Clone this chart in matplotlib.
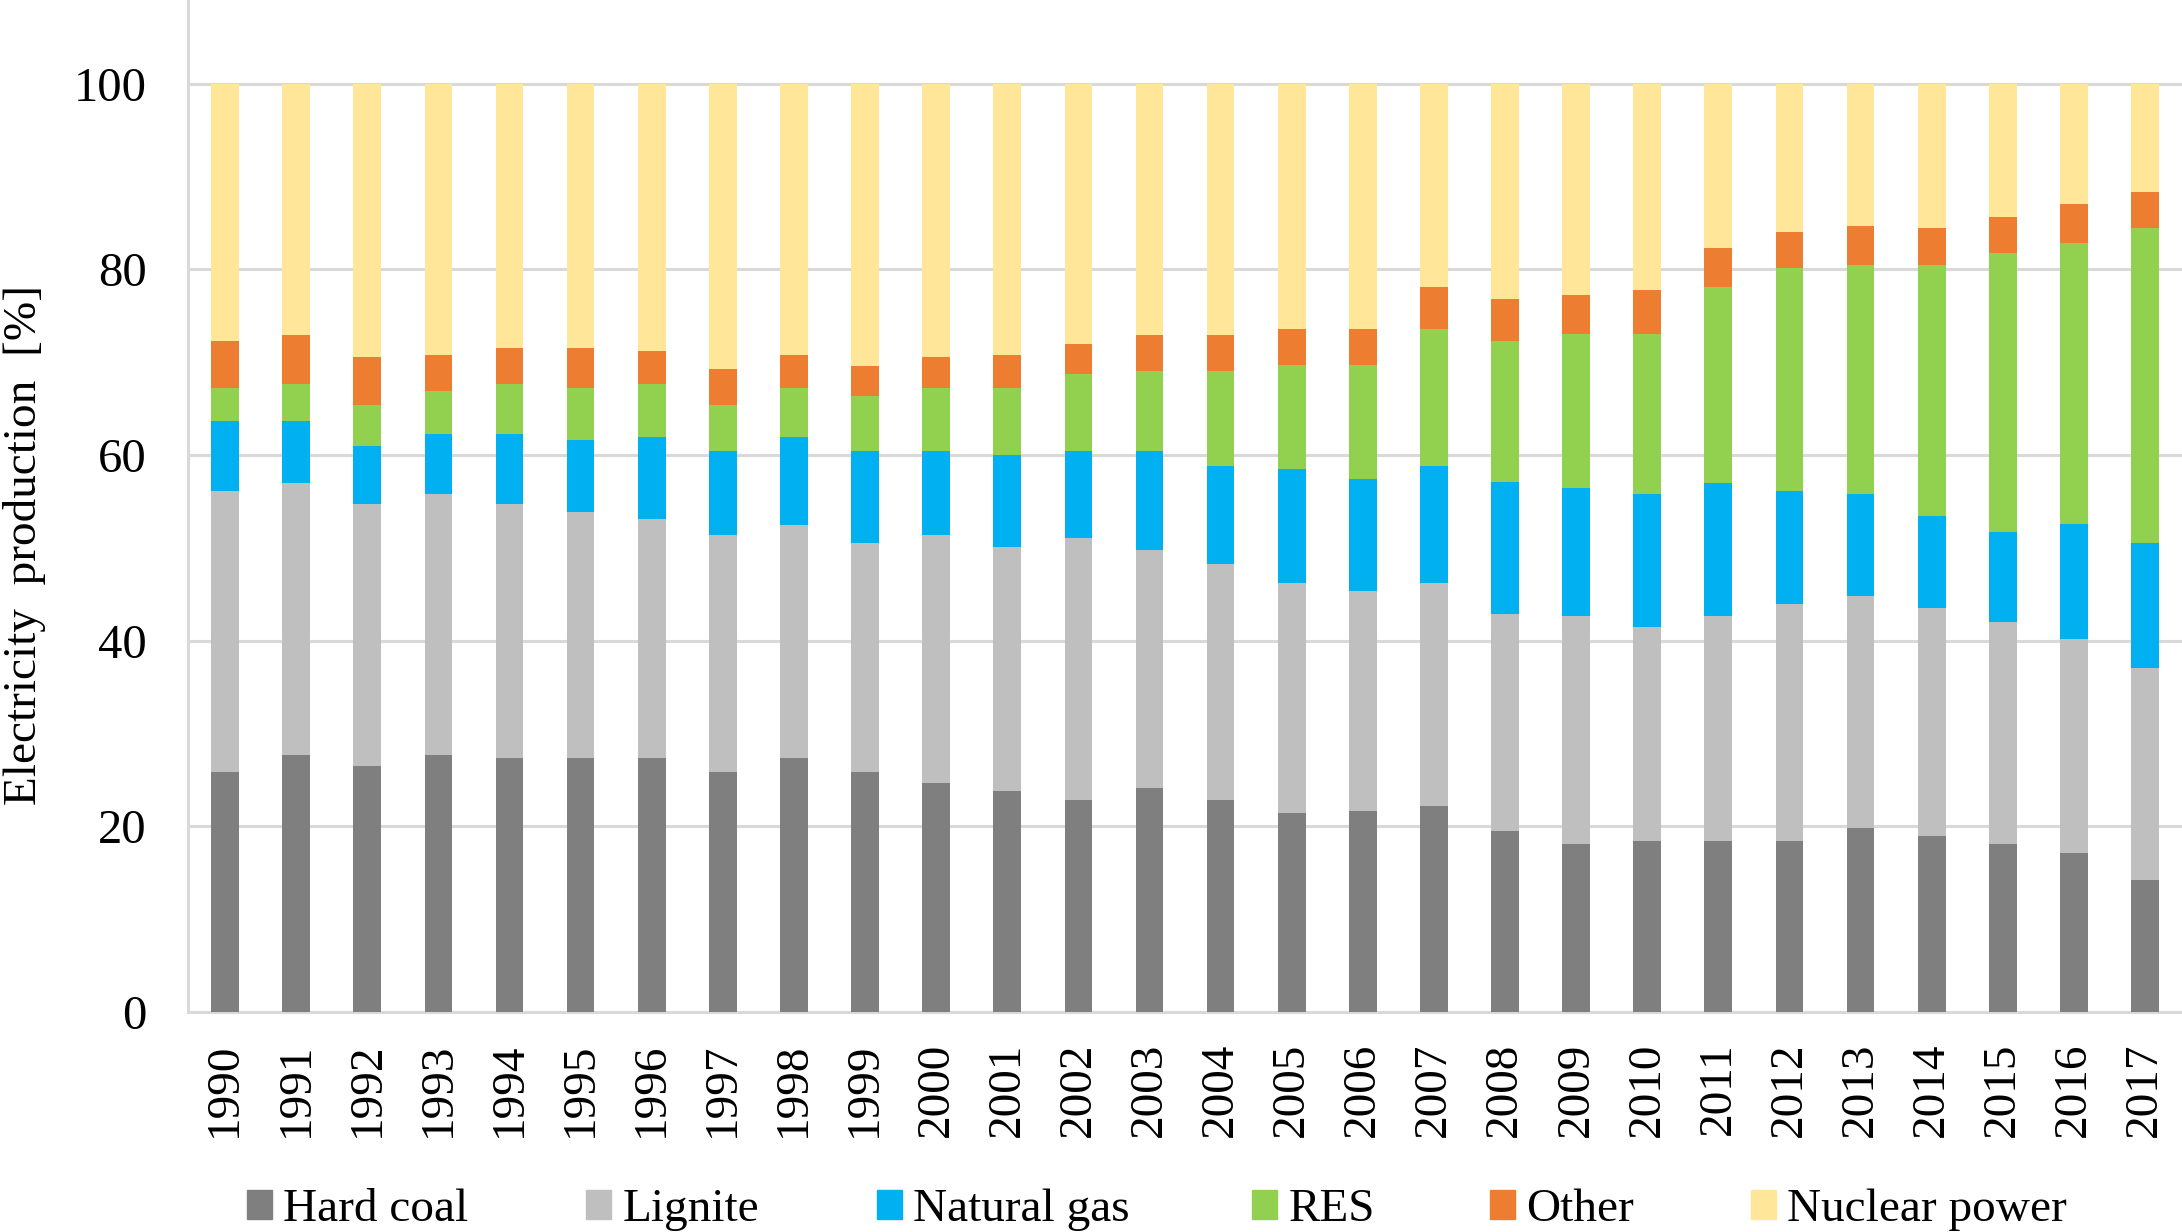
import matplotlib
matplotlib.use("Agg")
import matplotlib.pyplot as plt
import matplotlib.patches as mpatches
import numpy as np

years = [str(y) for y in range(1990, 2018)]

# shares in %
hard_coal = [25.8, 27.7, 26.5, 27.7, 27.4, 27.4, 27.4, 25.8, 27.4, 25.8,
             24.7, 23.8, 22.8, 24.1, 22.8, 21.4, 21.7, 22.2, 19.5, 18.1,
             18.4, 18.4, 18.4, 19.8, 18.9, 18.1, 17.1, 14.2]
lignite = [30.3, 29.3, 28.2, 28.1, 27.3, 26.4, 25.7, 25.6, 25.1, 24.7,
           26.7, 26.3, 28.3, 25.7, 25.5, 24.8, 23.6, 24.0, 23.4, 24.5,
           23.1, 24.2, 25.5, 25.0, 24.6, 23.9, 23.1, 22.8]
natural_gas = [7.5, 6.6, 6.3, 6.4, 7.5, 7.8, 8.8, 9.0, 9.4, 9.9,
               9.0, 9.9, 9.3, 10.6, 10.5, 12.3, 12.1, 12.6, 14.2, 13.8,
               14.3, 14.4, 12.2, 11.0, 9.9, 9.7, 12.4, 13.5]
res = [3.6, 4.0, 4.4, 4.7, 5.4, 5.6, 5.7, 5.0, 5.3, 5.9,
       6.8, 7.2, 8.3, 8.6, 10.2, 11.2, 12.3, 14.8, 15.2, 16.6,
       17.2, 21.1, 24.0, 24.7, 27.1, 30.0, 30.2, 33.9]
other = [5.1, 5.3, 5.1, 3.9, 3.9, 4.3, 3.6, 3.9, 3.6, 3.3,
         3.3, 3.6, 3.3, 3.9, 3.9, 3.9, 3.9, 4.5, 4.5, 4.2,
         4.8, 4.2, 3.9, 4.2, 3.9, 3.9, 4.2, 3.9]
nuclear = [100 - (a + b + c + d + e) for a, b, c, d, e in
           zip(hard_coal, lignite, natural_gas, res, other)]

series = [
    ("Hard coal", hard_coal, "#7f7f7f"),
    ("Lignite", lignite, "#bfbfbf"),
    ("Natural gas", natural_gas, "#00b0f0"),
    ("RES", res, "#92d050"),
    ("Other", other, "#ed7d31"),
    ("Nuclear power", nuclear, "#ffe699"),
]

plt.rcParams['font.family'] = ['Liberation Serif', 'DejaVu Serif']
fs = 34

fig = plt.figure(figsize=(21.82, 12.32), dpi=100)
ax = fig.add_axes([0.0862, 0.1786, 0.9138, 0.8214])

x = np.arange(len(years))
bottom = np.zeros(len(years))
handles = []
for name, vals, col in series:
    ax.bar(x, vals, width=0.39, bottom=bottom, color=col, zorder=3)
    bottom += np.array(vals)
    handles.append(mpatches.Patch(color=col, label=name))

ax.set_xlim(-0.52, len(years) - 0.48)
ax.set_ylim(0, 109)
ax.set_yticks([0, 20, 40, 60, 80, 100])
ax.set_xticks(x)
ax.set_xticklabels(years, rotation=90, fontsize=fs)
ax.tick_params(axis='y', labelsize=35, length=0, pad=30)
ax.tick_params(axis='x', length=0, pad=22)
ax.yaxis.grid(True, color="#d9d9d9", linewidth=2.2, zorder=0)
for s in ['top', 'right']:
    ax.spines[s].set_visible(False)
for s in ['left', 'bottom']:
    ax.spines[s].set_color("#d9d9d9")
    ax.spines[s].set_linewidth(2.2)

fig.text(25 / 2182, 1 - 545 / 1232, "Electricity  production  [%]",
         rotation=90, fontsize=fs, ha='center', va='center')

# legend entries laid out one by one, like the original
leg_x = [247, 586, 877, 1252, 1490, 1751]
for h, lx in zip(handles, leg_x):
    fig.legend(handles=[h], loc='center left',
               bbox_to_anchor=(lx / 2182, 1 - 1210 / 1232),
               frameon=False, fontsize=fs, handlelength=0.52,
               handleheight=0.55, handletextpad=0.25,
               borderpad=0, borderaxespad=0)

fig.savefig("out.png", dpi=100)
